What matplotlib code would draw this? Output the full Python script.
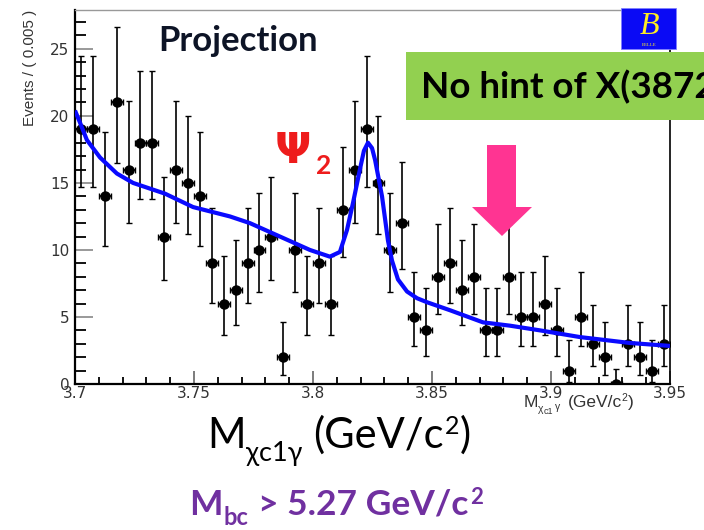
import math
import numpy as np
import matplotlib.pyplot as plt
from matplotlib.ticker import MultipleLocator
from matplotlib.patches import Rectangle, Polygon

# histogram: 50 bins of 0.005 GeV between 3.70 and 3.95
bin_edges = np.linspace(3.70, 3.95, 51)
counts = [19, 19, 14, 21, 16, 18, 18, 11, 16, 15,
          14, 9, 6, 7, 9, 10, 11, 2, 10, 6,
          9, 6, 13, 16, 19, 15, 10, 12, 5, 4,
          8, 9, 7, 8, 4, 4, 8, 5, 5, 6,
          4, 1, 5, 3, 2, 0, 3, 2, 1, 3]

# fit projection
fit_x = [3.7000, 3.7021, 3.7050, 3.7105, 3.7176, 3.7244, 3.7378, 3.7496, 3.7651,
         3.7735, 3.7861, 3.7987, 3.8071, 3.8113, 3.8143, 3.8168, 3.8197, 3.8214,
         3.8231, 3.8248, 3.8261, 3.8290, 3.8315, 3.8332, 3.8357, 3.8395, 3.8437,
         3.8479, 3.8576, 3.8714, 3.8828, 3.8954, 3.9122, 3.9332, 3.9500]
fit_y = [20.4, 19.5, 18.2, 16.9, 15.7, 15.0, 14.2, 13.2, 12.5,
         12.0, 11.0, 10.0, 9.5, 9.85, 11.5, 13.5, 16.0, 17.4,
         18.0, 17.6, 16.7, 14.0, 10.7, 9.2, 7.8, 6.9, 6.4,
         6.1, 5.5, 4.6, 4.35, 4.0, 3.5, 3.06, 2.84]

xticks = [3.70, 3.75, 3.80, 3.85, 3.90, 3.95]
xtick_labels = ["3.7", "3.75", "3.8", "3.85", "3.9", "3.95"]
yticks = [0, 5, 10, 15, 20, 25]

W, H = 704, 530


def poisson_cdf(n, mu):
    term, s = math.exp(-mu), 0.0
    for k in range(n + 1):
        if k > 0:
            term *= mu / k
        s += term
    return s


def solve(fun, target, lo, hi):
    # fun is decreasing in mu
    for _ in range(80):
        mid = 0.5 * (lo + hi)
        if fun(mid) > target:
            lo = mid
        else:
            hi = mid
    return 0.5 * (lo + hi)


def poisson_interval(n, a=0.158655):
    # same convention as RooFit error bars
    if n == 0:
        return 0.0, -math.log(1 - 0.6827)
    up = solve(lambda m: poisson_cdf(n, m), a, 0, 100)
    low = solve(lambda m: poisson_cdf(n - 1, m), 1 - a, 0, 100)
    return low, up


def px(x, y):
    return x / W, 1 - y / H


def pieces(fig, x0, y0, parts, family, color, weight="normal"):
    # draw text pieces one after another, (string, size, dy, gap)
    r = fig.canvas.get_renderer()
    x = x0
    for s, size, dy, gap in parts:
        x += gap
        t = fig.text(*px(x, y0 + dy), s, fontsize=size, family=family,
                     color=color, weight=weight, va="baseline", ha="left")
        x += t.get_window_extent(r).width


centers = 0.5 * (bin_edges[:-1] + bin_edges[1:])
half = 0.5 * np.diff(bin_edges)
lows, ups = [], []
for n in counts:
    l, u = poisson_interval(n)
    lows.append(n - l)
    ups.append(u - n)

fig = plt.figure(figsize=(W / 100, H / 100), dpi=100)
ax = fig.add_axes([75 / W, (H - 384) / H, 595 / W, 374 / H])

ax.errorbar(centers, counts, xerr=half, yerr=[lows, ups], fmt="o", color="black",
            ms=6.5, elinewidth=1.2, capsize=2.5, capthick=1.0, zorder=3)
ax.plot(fit_x, fit_y, color="#0a0aff", lw=3.0, zorder=4, solid_capstyle="butt")

ax.set_xlim(3.70, 3.95)
ax.set_ylim(0, 27.9)
ax.set_xticks(xticks)
ax.set_xticklabels(xtick_labels)
ax.set_yticks(yticks)
ax.xaxis.set_minor_locator(MultipleLocator(0.01))
ax.yaxis.set_minor_locator(MultipleLocator(1))
ax.tick_params(axis="both", which="both", direction="in", labelsize=11,
               labelcolor="#333333")
ax.tick_params(axis="x", which="major", length=9.5, width=1.2, color="#666666", pad=1.5)
ax.tick_params(axis="x", which="minor", length=5, width=1.3, color="black")
ax.tick_params(axis="y", which="major", length=13, width=1.2, color="#888888", pad=4)
ax.tick_params(axis="y", which="minor", length=8, width=1.3, color="black")
for lab in ax.get_xticklabels() + ax.get_yticklabels():
    lab.set_family("DejaVu Sans")
ax.spines["left"].set_linewidth(1.6)
ax.spines["bottom"].set_linewidth(1.6)
ax.spines["right"].set_linewidth(1.2)
ax.spines["top"].set_linewidth(1.0)
ax.spines["top"].set_color("#999999")

fig.text(*px(30, 10), "Events / ( 0.005 )", rotation=90, ha="center", va="top",
         fontsize=11, family="Liberation Sans", color="#333333")

# small ROOT axis title
sans = ["Liberation Sans", "DejaVu Sans"]
pieces(fig, 524, 407, [("M", 12.5, 0, 0), ("\u03c7", 7.5, 5, 0), ("c1", 6.5, 7, 0),
                       ("\u03b3", 7.5, 3, 2), ("(GeV/c", 12.5, 0, 7), ("2", 7.5, -6, 0),
                       (")", 12.5, 0, 0)], sans, "#333333")

lato = ["Lato", "Noto Sans", "DejaVu Sans"]
fig.text(*px(158, 51), "Projection", fontsize=25, family=lato, weight="bold",
         color="#0d1426", ha="left", va="baseline")

# psi_2 label
fig.text(*px(275, 163), "\u03a8", fontsize=31, family="DejaVu Sans",
         weight="bold", color="#ee1c1c", ha="left", va="baseline")
fig.text(*px(316, 174), "2", fontsize=19, family=lato, weight="bold",
         color="#ee1c1c", ha="left", va="baseline")

# green note box
fig.patches.append(Rectangle(px(406, 120), (W - 406) / W, 68 / H,
                             transform=fig.transFigure, facecolor="#92d050",
                             edgecolor="none", zorder=5))
fig.text(*px(421, 98), "No hint of X(3872)", fontsize=26.5, family=lato,
         weight="bold", color="black", ha="left", va="baseline", zorder=6)

# Belle logo
fig.patches.append(Rectangle(px(621, 49), 55 / W, 41 / H, transform=fig.transFigure,
                             facecolor="#0a0af5", edgecolor="#8080ff", lw=0.6, zorder=5))
fig.text(*px(649, 34), "B", fontsize=23, family="Liberation Serif", style="italic",
         color="#ffee22", ha="center", va="baseline", zorder=6)
fig.text(*px(649, 45.5), "BELLE", fontsize=3.5, family="Liberation Serif",
         color="#ffee22", ha="center", va="baseline", zorder=6)

# pink arrow
arrow = [(487, 145), (516, 145), (516, 207), (532, 207), (502, 236),
         (472, 207), (487, 207)]
fig.patches.append(Polygon([px(a, b) for a, b in arrow], closed=True,
                           transform=fig.transFigure, facecolor="#ff3492",
                           edgecolor="none", zorder=5))

# big axis title
pieces(fig, 207, 448, [("M", 30, 0, 0), ("\u03c7c1\u03b3", 19.5, 13, 1),
                       ("(GeV/c", 30, 0, 10), ("2", 18, -14, 1), (")", 30, 0, 1)],
       lato, "black")

# Mbc cut
pieces(fig, 189, 515, [("M", 25.5, 0, 0), ("bc", 17, 10, 1),
                       ("> 5.27 GeV/c", 25.5, 0, 10), ("2", 16, -11, 1)],
       lato, "#7030a0", weight="bold")

fig.savefig("out.png", dpi=100)
